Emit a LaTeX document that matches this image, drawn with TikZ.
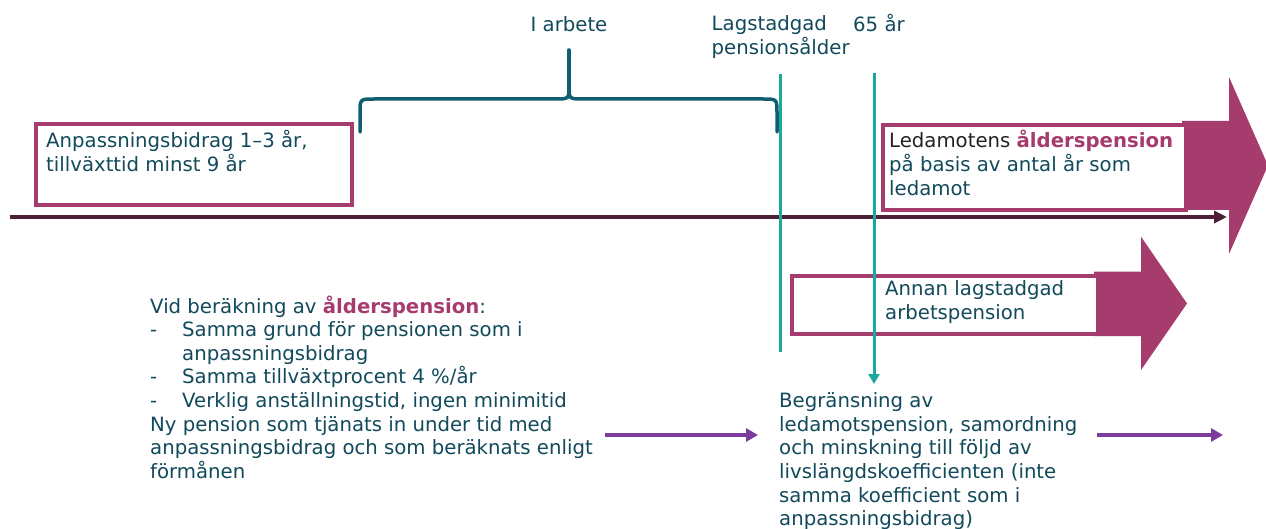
\documentclass[tikz,border=0pt]{standalone}
\usepackage{fontspec}
\setmainfont{DejaVu Sans}
\usetikzlibrary{arrows.meta}
\definecolor{txt}{HTML}{124A5C}
\definecolor{mag}{HTML}{A63C6E}
\definecolor{tealL}{HTML}{1AA99A}
\definecolor{bracec}{HTML}{0F5E73}
\definecolor{purp}{HTML}{7B3C9E}
\definecolor{axisc}{HTML}{4E2038}
\definecolor{darkt}{HTML}{222222}
\begin{document}
\begin{tikzpicture}[x=1pt,y=-1pt,
  lbl/.style={font=\fontsize{19.7}{23.6}\selectfont, text=txt, inner sep=0pt, align=left, anchor=base west},
  magbox/.style={draw=mag, line width=4pt, fill=white, inner sep=0pt, anchor=north west},
  magfill/.style={fill=mag, draw=none},
  axisline/.style={draw=axisc, line width=4pt, -{Triangle[length=13pt,width=12pt]}},
  bracel/.style={draw=bracec, line width=3.5pt, line cap=round, line join=round},
  tline/.style={draw=tealL, line width=3pt},
  tarrow/.style={draw=tealL, line width=3pt, -{Triangle[length=10pt,width=11pt]}},
  parrow/.style={draw=purp, line width=4pt, -{Triangle[length=12pt,width=13pt]}}
]
\useasboundingbox[fill=white] (0,0) rectangle (1266,529);

% axis
\coordinate (axL) at (10,217);
\coordinate (axR) at (1227,217);
\draw[axisline] (axL) -- (axR);

% box 1 (multi-line labels are placed by the baseline of their last line)
\node[magbox, minimum width=316pt, minimum height=81pt] (box1) at (34,122.5) {};
\node[lbl] (t1) at (46,171.6) {Anpassningsbidrag 1–3 år,\\tillväxttid minst 9 år};

% big arrow 1
\fill[magfill] (1182,121) -- (1229,121) -- (1229,77) -- (1268,165.5) -- (1229,254) -- (1229,210) -- (1182,210) -- cycle;
\node[magbox, minimum width=303pt, minimum height=85pt] (box2) at (881,123.5) {};
\node[lbl] (t2) at (889,195.2) {\textcolor{darkt}{Ledamotens} \textcolor{mag}{\textbf{ålderspension}}\\på basis av antal år som\\ledamot};

% big arrow 2
\fill[magfill] (1094,271.7) -- (1141,271.7) -- (1141,236.7) -- (1187,303.5) -- (1141,370) -- (1141,336) -- (1094,336) -- cycle;
\node[magbox, minimum width=306pt, minimum height=58pt] (box3) at (789.5,273.7) {};
\node[lbl] (t3) at (885,319.6) {Annan lagstadgad\\arbetspension};

% brace
\draw[bracel] (360,132) -- (360,113) .. controls (360,99) .. (374,99) -- (555,99) .. controls (569,99) .. (569,86)
  .. controls (569,99) .. (583,99) -- (763,99) .. controls (777,99) .. (777,113) -- (777,132);
\coordinate (brtip) at (569,86);
\coordinate (brtop) at (569,50);
\draw[bracel] (brtip) -- (brtop);

% top labels
\node[lbl, anchor=base] (iarb) at (569,31.5) {I arbete};
\node[lbl] (lag) at (711.5,54.6) {Lagstadgad\\pensionsålder};
\node[lbl] (f65) at (853,31.5) {65 år};

% teal lines
\coordinate (v1t) at (780,74);
\coordinate (v1b) at (780,352);
\coordinate (v2t) at (874,73);
\coordinate (v2b) at (874,384);
\draw[tline] (v1t) -- (v1b);
\draw[tarrow] (v2t) -- (v2b);

% left text
\node[lbl] (left) at (150,478.2) {Vid beräkning av \textcolor{mag}{\textbf{ålderspension}}:\\
\makebox[32pt][l]{-}Samma grund för pensionen som i\\
\hspace*{32pt}anpassningsbidrag\\
\makebox[32pt][l]{-}Samma tillväxtprocent 4 \%/år\\
\makebox[32pt][l]{-}Verklig anställningstid, ingen minimitid\\
Ny pension som tjänats in under tid med\\
anpassningsbidrag och som beräknats enligt\\
förmånen};

% bottom text
\node[lbl] (bot) at (779,525.7) {Begränsning av\\ledamotspension, samordning\\och minskning till följd av\\livslängdskoefficienten (inte\\samma koefficient som i\\anpassningsbidrag)};

% purple arrows
\coordinate (p1s) at (605,435);
\coordinate (p1e) at (758,435);
\coordinate (p2s) at (1097,435);
\coordinate (p2e) at (1223,435);
\draw[parrow] (p1s) -- (p1e);
\draw[parrow] (p2s) -- (p2e);
\end{tikzpicture}
\end{document}
